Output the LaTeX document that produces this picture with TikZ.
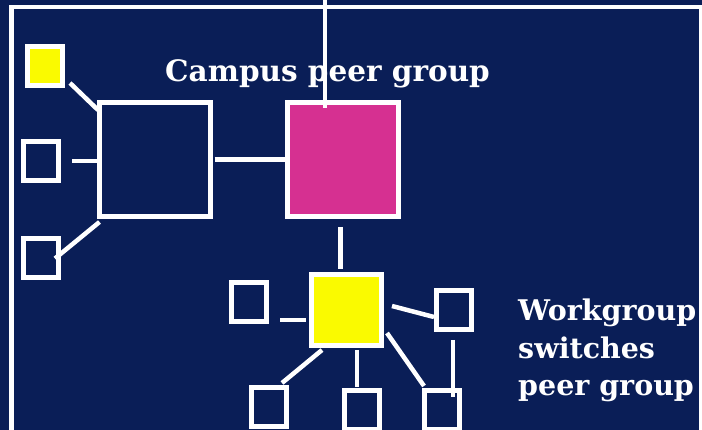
\documentclass[tikz,border=0pt]{standalone}
\usepackage{fontspec}
\setmainfont{DejaVu Serif}
\usetikzlibrary{calc}
\definecolor{slide}{RGB}{10,30,87}
\definecolor{hubpink}{RGB}{214,48,145}
\definecolor{lit}{RGB}{250,250,0}
\tikzset{
 link/.style={draw=white,line width=4.5pt},
 frameline/.style={draw=white,line width=4.5pt},
 pc/.style={draw=white,line width=5pt,fill=slide,minimum width=35pt,minimum height=39pt,inner sep=0,outer sep=0},
 litpc/.style={pc,fill=lit},
 hub/.style={draw=white,line width=5pt,fill=slide,minimum width=111pt,minimum height=114pt,inner sep=0,outer sep=0},
 wghub/.style={draw=white,line width=5pt,fill=lit,minimum width=70pt,minimum height=71pt,inner sep=0,outer sep=0},
 caption/.style={text=white,font=\bfseries\fontsize{28.5}{37.5}\selectfont,inner sep=0}
}

\begin{document}
\begin{tikzpicture}[x=1pt,y=1pt]
\path[use as bounding box] (0,0) rectangle (702,430);
\clip (0,0) rectangle (702,430);
\fill[slide] (0,0) rectangle (702,430);
\draw[frameline] (11.5,-10) rectangle (701,423);
% campus peer group
\node[caption,font=\bfseries\fontsize{29.5}{37}\selectfont,anchor=base west] (campus) at (165,348) {Campus peer group};
\node[litpc] (hy) at (45,364) {};
\node[pc] (h2) at (41,269) {};
\node[pc] (h3) at (41,171.5) {};
\node[hub] (cs1) at (155,270.5) {};
\node[hub,fill=hubpink] (cs2) at (343,270.5) {};
\coordinate (uplink) at (325,430);
% workgroup switches peer group
\node[caption,anchor=north west,align=left] (wg) at (518,131) {Workgroup\\switches\\peer group};
\node[wghub] (ws) at (346.5,120) {};
\node[pc] (w1) at (249,128) {};
\node[pc] (w2) at (269,23) {};
\node[pc] (w3) at (361.5,20) {};
\node[pc] (w4) at (441.5,20) {};
\node[pc] (w5) at (453.5,120) {};
% links
\draw[link] ([shift={(7.5,2.5)}]hy.south east) -- ([shift={(-1.5,-7.5)}]cs1.north west);
\draw[link,shorten <=13.5pt] (h2.east) -- (h2.east -| cs1.west);
\draw[link] ([xshift=-3.5pt]h3.east) -- ([yshift=-5.5pt]cs1.south west);
\draw[link,shorten <=4pt] (cs1.east) -- (cs2.west);
\draw[link] (uplink) -- ([yshift=-5.5pt]uplink |- cs2.north);
\draw[link,shorten <=10.5pt,shorten >=5.5pt] ([xshift=-2.5pt]cs2.south) -- ([xshift=-2.5pt]cs2.south |- ws.north);
\draw[link] ([shift={(13.5,-18)}]w1.east) -- ([shift={(-5.5,-10)}]ws.west);
\draw[link] ([shift={(10.5,-4.5)}]ws.south west) -- ([shift={(-4.5,4.5)}]w2.north east);
\draw[link,shorten <=4.5pt,shorten >=3.5pt] ([xshift=10.5pt]ws.south) -- ([xshift=10.5pt]ws.south |- w3.north);
\draw[link] ([shift={(5.5,12.5)}]ws.south east) -- ([yshift=4.5pt]w4.north west);
\draw[link] ([shift={(10.5,4)}]ws.east) -- ([shift={(-2,-7)}]w5.west);
\draw[link,shorten <=10.5pt] ([xshift=-0.5pt]w5.south) -- ([shift={(11.5,-6.5)}]w4.north);
\end{tikzpicture}
\end{document}
